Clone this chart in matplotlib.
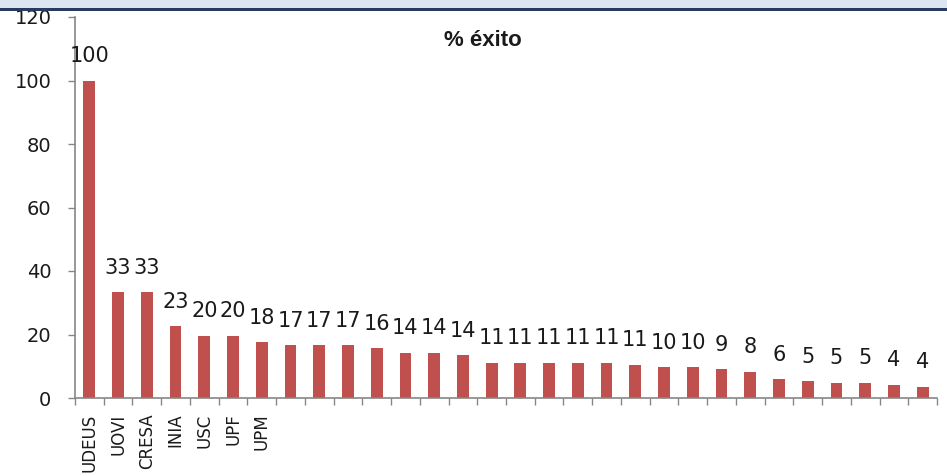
import matplotlib
matplotlib.use("Agg")
import matplotlib.pyplot as plt
from matplotlib.patches import Rectangle
import numpy as np

title = "% éxito"
categories = ["UDEUS", "UOVI", "CRESA", "INIA", "USC", "UPF", "UPM"] + [""] * 23
values = [100, 33.3, 33.3, 22.7, 19.6, 19.6, 17.6, 16.7, 16.7, 16.7,
          15.8, 14.3, 14.3, 13.6, 11.1, 11.1, 11.1, 11.1, 11.1, 10.5,
          9.8, 9.8, 9.1, 8.3, 5.9, 5.3, 4.8, 4.8, 4.2, 3.6]
value_labels = ["100", "33", "33", "23", "20", "20", "18", "17", "17", "17",
                "16", "14", "14", "14", "11", "11", "11", "11", "11", "11",
                "10", "10", "9", "8", "6", "5", "5", "5", "4", "4"]
yticks = [0, 20, 40, 60, 80, 100, 120]

W, H = 947, 476
fig = plt.figure(figsize=(W / 100, H / 100), dpi=100)
fig.patch.set_facecolor("white")

# top decorative band
fig.patches.append(Rectangle((0, 1 - 8 / H), 1, 8 / H, transform=fig.transFigure,
                             facecolor="#dce6f2", edgecolor="none"))
fig.patches.append(Rectangle((0, 1 - 11 / H), 1, 3 / H, transform=fig.transFigure,
                             facecolor="#263c5a", edgecolor="none"))

left, right, bottom, top = 75 / W, 937 / W, 1 - 398 / H, 1 - 17 / H
ax = fig.add_axes([left, bottom, right - left, top - bottom])

x = np.arange(len(values))
ax.bar(x, values, width=0.41, color="#c0504d", zorder=2)

for xi, v, lab in zip(x, values, value_labels):
    ax.annotate(lab, (xi, v), xytext=(0, 17.5), textcoords="offset points",
                ha="center", va="center", fontsize=15, family="DejaVu Sans",
                color="#1a1a1a")

ax.set_xlim(-0.5, len(values) - 0.5)
ax.set_ylim(0, 120)
ax.set_yticks(yticks)
ax.set_yticklabels([str(t) for t in yticks], fontsize=14, family="DejaVu Sans",
                   color="#1a1a1a")
ax.tick_params(axis="y", length=5, width=1, color="#868686", pad=12)

ax.set_xticks(x)
ax.set_xticklabels(categories, rotation=90, fontsize=12, family="DejaVu Sans",
                   va="top", ha="center", color="#1a1a1a")
ax.tick_params(axis="x", which="major", length=0, pad=11)
ax.set_xticks(np.arange(len(values) + 1) - 0.5, minor=True)
ax.tick_params(axis="x", which="minor", length=5, width=1, color="#868686")

for s in ["top", "right"]:
    ax.spines[s].set_visible(False)
for s in ["left", "bottom"]:
    ax.spines[s].set_color("#868686")
    ax.spines[s].set_linewidth(1.2)

fig.text(483 / W, 1 - 40 / H, title, ha="center", va="center", fontsize=16,
         fontweight="bold", family="Liberation Sans", color="#1a1a1a")

fig.savefig("out.png", dpi=100)
